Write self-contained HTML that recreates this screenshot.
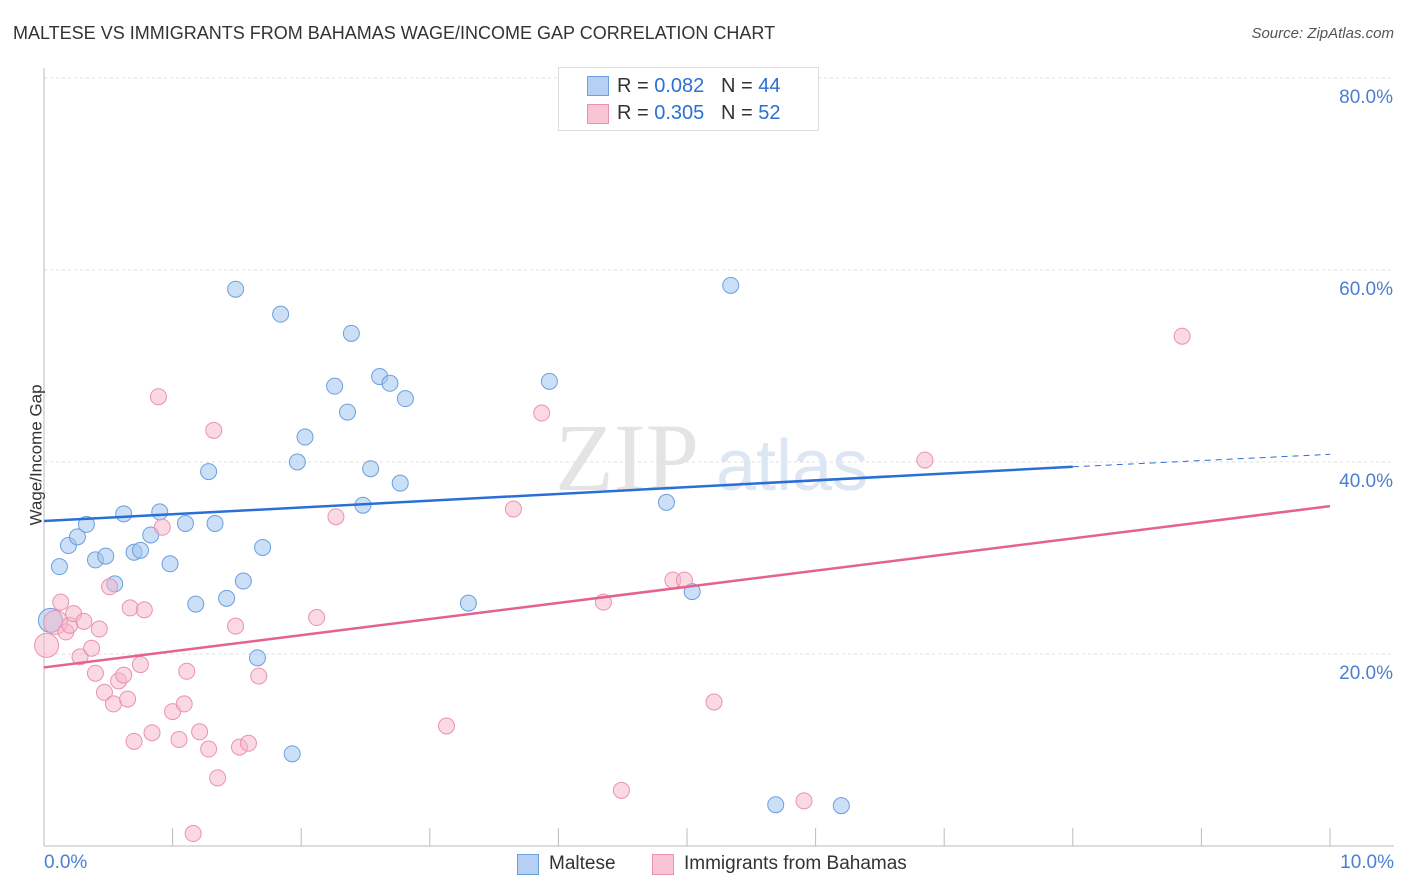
<!DOCTYPE html>
<html><head><meta charset="utf-8"><style>
body{margin:0;background:#fff;font-family:"Liberation Sans",sans-serif;}
.t{position:absolute;white-space:nowrap}
</style></head><body>
<div style="position:relative;width:1406px;height:892px;overflow:hidden">
<div class="t" style="left:13px;top:23px;font-size:18px;color:#333">MALTESE VS IMMIGRANTS FROM BAHAMAS WAGE/INCOME GAP CORRELATION CHART</div>
<div class="t" style="right:12px;top:25px;font-size:15px;color:#555;font-style:italic">Source: ZipAtlas.com</div>
<svg id="plot" width="1406" height="892" style="position:absolute;left:0;top:0"></svg>
</div>
<script>
const xTicks=[0,1,2,3,4,5,6,7,8,9,10];
const yTicks=[20,40,60,80];
const blueX=[0.05,0.12,0.19,0.26,0.33,0.40,0.48,0.55,0.62,0.70,0.75,0.83,0.90,0.98,1.10,1.18,1.28,1.33,1.42,1.49,1.55,1.66,1.70,1.84,1.93,1.97,2.03,2.26,2.36,2.39,2.48,2.54,2.61,2.69,2.77,2.81,3.30,3.93,4.84,5.04,5.34,5.69,6.20];
const blueY=[23.5,29.1,31.3,32.2,33.5,29.8,30.2,27.3,34.6,30.6,30.8,32.4,34.8,29.4,33.6,25.2,39.0,33.6,25.8,58.0,27.6,19.6,31.1,55.4,9.6,40.0,42.6,47.9,45.2,53.4,35.5,39.3,48.9,48.2,37.8,46.6,25.3,48.4,35.8,26.5,58.4,4.3,4.2];
const pinkX=[0.02,0.09,0.13,0.17,0.20,0.23,0.28,0.31,0.37,0.40,0.43,0.47,0.51,0.54,0.58,0.62,0.65,0.70,0.67,0.75,0.78,0.84,0.89,0.92,1.00,1.05,1.09,1.11,1.16,1.21,1.28,1.32,1.35,1.49,1.52,1.59,1.67,2.12,2.27,3.13,3.65,3.87,4.35,4.49,4.89,4.98,5.21,5.91,6.85,8.85];
const pinkY=[20.9,23.3,25.4,22.3,23.0,24.2,19.7,23.4,20.6,18.0,22.6,16.0,27.0,14.8,17.2,17.8,15.3,10.9,24.8,18.9,24.6,11.8,46.8,33.2,14.0,11.1,14.8,18.2,1.3,11.9,10.1,43.3,7.1,22.9,10.3,10.7,17.7,23.8,34.3,12.5,35.1,45.1,25.4,5.8,27.7,27.7,15.0,4.7,40.2,53.1];
const blueTrend=[33.85,39.5,40.8];
const pinkTrend=[18.6,35.4];
const X=v=>44+v*128.6, Y=v=>846-v*9.6;
const svg=document.getElementById('plot');
function mk(tag,attrs,name){const e=document.createElementNS('http://www.w3.org/2000/svg',tag);for(const k in attrs)e.setAttribute(k,attrs[k]);


svg.appendChild(e);return e;}
yTicks.forEach(t=>{mk('line',{x1:44,x2:1394,y1:Y(t),y2:Y(t),stroke:'#ddd','stroke-dasharray':'3,3'},'y-gridline');
const tx=mk('text',{x:1393,y:Y(t)+25,'text-anchor':'end','font-size':19,fill:'#4a7fd4','font-family':'Liberation Sans'},'y-tick-label');tx.textContent=t.toFixed(1)+'%';});
mk('line',{x1:44,x2:44,y1:68,y2:846,stroke:'#bbb'},'y-axis');
mk('line',{x1:44,x2:1394,y1:846,y2:846,stroke:'#bbb'},'x-axis');
xTicks.forEach(t=>mk('line',{x1:X(t),x2:X(t),y1:828,y2:846,stroke:'#bbb'},'x-tick'));
const wm=mk('text',{x:555,y:490,'font-size':96,fill:'#e4e4e4','font-family':'Liberation Serif'},'watermark');wm.textContent='ZIP';
const wm2=mk('text',{x:716,y:490,'font-size':72,fill:'#dde6f3','font-family':'Liberation Sans'},'watermark-atlas');wm2.textContent='atlas';
blueX.forEach((v,i)=>mk('circle',{cx:X(v),cy:Y(blueY[i]),r:i==0?12:8,fill:'rgba(160,196,240,0.55)',stroke:'#6c9fdc','stroke-width':1},'maltese-point'));
pinkX.forEach((v,i)=>mk('circle',{cx:X(v),cy:Y(pinkY[i]),r:i<2?12:8,fill:'rgba(246,180,200,0.5)',stroke:'#eb92b0','stroke-width':1},'bahamas-point'));
mk('line',{x1:X(0),y1:Y(blueTrend[0]),x2:X(8),y2:Y(blueTrend[1]),stroke:'#2a6fd6','stroke-width':2.5},'maltese-trendline');
mk('line',{x1:X(8),y1:Y(blueTrend[1]),x2:X(10),y2:Y(blueTrend[2]),stroke:'#2a6fd6','stroke-width':1,'stroke-dasharray':'6,5'},'maltese-trend-extension');
mk('line',{x1:X(0),y1:Y(pinkTrend[0]),x2:X(10),y2:Y(pinkTrend[1]),stroke:'#e4628f','stroke-width':2.5},'bahamas-trendline');
</script>
<div class="t" style="left:44px;top:852px;font-size:19px;color:#4a7fd4">0.0%</div>
<div class="t" style="right:12px;top:852px;font-size:19px;color:#4a7fd4">10.0%</div>
<div class="t" style="left:-34px;top:445px;font-size:17px;color:#333;transform:rotate(-90deg)">Wage/Income Gap</div>
<div style="position:absolute;left:558px;top:67px;width:259px;height:62px;border:1px solid #ddd;background:#fff;font-size:20px">
<div style="position:absolute;left:28px;top:8px;width:20px;height:18px;background:#b5d0f3;border:1px solid #6c9fdc"></div>
<div class="t" style="left:58px;top:7px;color:#333">R = <span style="color:#2a6fd6">0.082</span> &nbsp;&nbsp;N = <span style="color:#2a6fd6">44</span></div>
<div style="position:absolute;left:28px;top:36px;width:20px;height:18px;background:#f8c4d3;border:1px solid #eb92b0"></div>
<div class="t" style="left:58px;top:34px;color:#333">R = <span style="color:#2a6fd6">0.305</span> &nbsp;&nbsp;N = <span style="color:#2a6fd6">52</span></div>
</div>
<div style="position:absolute;left:517px;top:852px;font-size:19px;color:#333">
<div style="position:absolute;left:0;top:2px;width:20px;height:19px;background:#b5d0f3;border:1px solid #6c9fdc"></div>
<div class="t" style="left:32px;top:1px">Maltese</div>
<div style="position:absolute;left:135px;top:2px;width:20px;height:19px;background:#f8c4d3;border:1px solid #eb92b0"></div>
<div class="t" style="left:167px;top:1px">Immigrants from Bahamas</div>
</div>
</body></html>
